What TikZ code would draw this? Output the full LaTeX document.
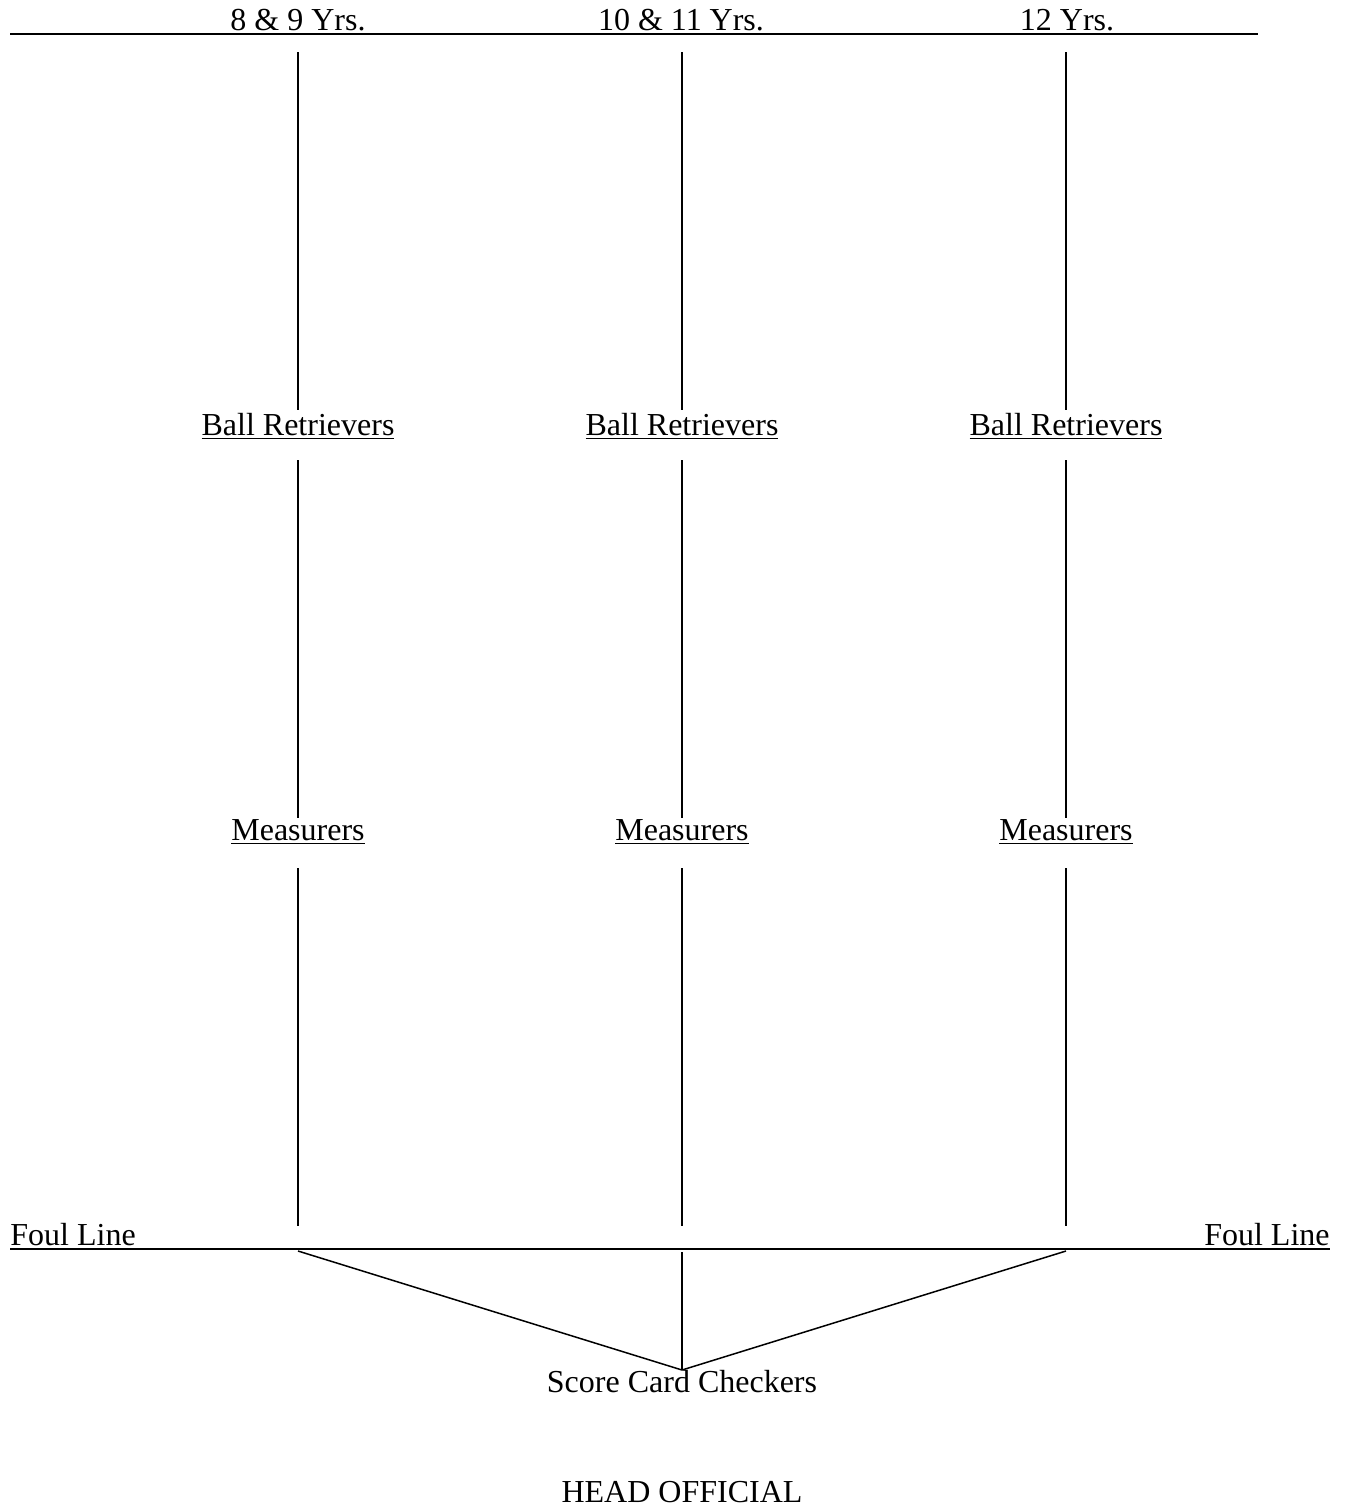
\documentclass[tikz,border=0pt]{standalone}
\usepackage{fontspec}
\setmainfont{Liberation Serif}
\begin{document}
\begin{tikzpicture}[x=0.5pt,y=-0.5pt,
  lbl/.style={anchor=base,inner sep=0pt,font=\fontsize{16}{19}\selectfont},
  thinline/.style={line width=0.75pt},
  thickline/.style={line width=1pt}]
\useasboundingbox (0,0) rectangle (1346,1510);
% top line
\coordinate (tl) at (10,34);
\coordinate (tr) at (1258,34);
\draw[thickline] (tl) -- (tr);
\node[lbl] (age1) at (298,30) {8 \& 9 Yrs.};
\node[lbl] (age2) at (681,30) {10 \& 11 Yrs.};
\node[lbl] (age3) at (1067,30) {12 Yrs.};
% columns
\foreach \i/\x in {1/298,2/682,3/1066}{
  \coordinate (a\i) at (\x,52);
  \coordinate (b\i) at (\x,410);
  \node[lbl] (br\i) at (\x,435) {\underline{Ball Retrievers}};
  \coordinate (c\i) at (\x,460);
  \coordinate (d\i) at (\x,818);
  \node[lbl] (ms\i) at (\x,840) {\underline{Measurers}};
  \coordinate (e\i) at (\x,868);
  \coordinate (f\i) at (\x,1226);
  \draw[thinline] (a\i) -- (b\i);
  \draw[thinline] (c\i) -- (d\i);
  \draw[thinline] (e\i) -- (f\i);
}
% foul line
\coordinate (fl) at (10,1249);
\coordinate (fr) at (1330,1249);
\draw[thickline] (fl) -- (fr);
\node[lbl,anchor=base west] (foulL) at (10,1245) {Foul Line};
\node[lbl,anchor=base east] (foulR) at (1330,1245) {Foul Line};
% converging lines
\coordinate (g1) at (298,1251);
\coordinate (g2) at (682,1252);
\coordinate (g3) at (1066,1251);
\coordinate (sc) at (682,1370);
\draw[thinline] (g1) -- (sc);
\draw[thinline] (g2) -- (sc);
\draw[thinline] (g3) -- (sc);
\node[lbl] (score) at (682,1392) {Score Card Checkers};
\node[lbl] (head) at (682,1502) {HEAD OFFICIAL};
\end{tikzpicture}
\end{document}
